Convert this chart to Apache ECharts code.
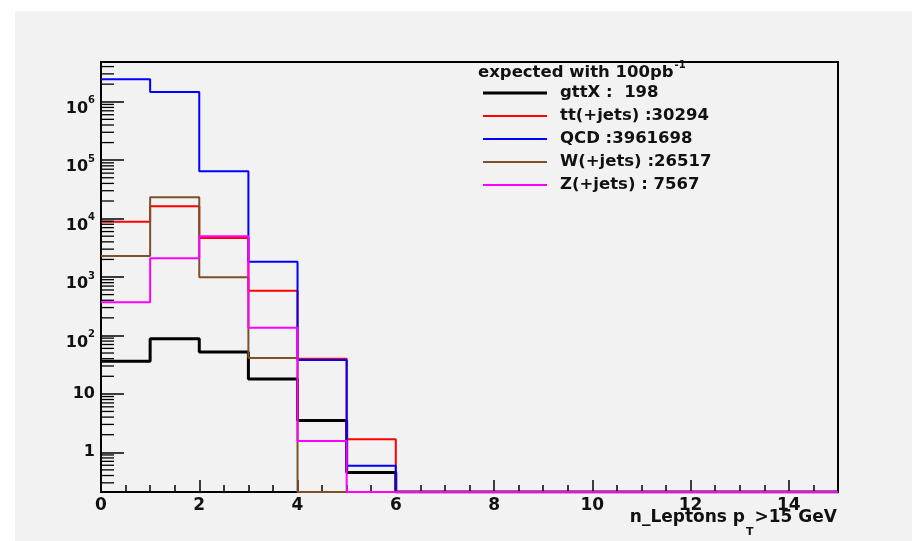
<!DOCTYPE html>
<html>
<head>
<meta charset="utf-8">
<title>n_Leptons pT>15 GeV</title>
<script src="https://cdn.jsdelivr.net/npm/echarts@6/dist/echarts.min.js"></script>
<style>
  html, body { margin: 0; padding: 0; background: #ffffff; }
  #panel { position: absolute; left: 15px; top: 11px; width: 897px; height: 530px; background: #f2f2f2; }
  #chart { position: absolute; left: 0; top: 0; width: 912px; height: 541px; }
</style>
</head>
<body>
<div id="panel"></div>
<div id="chart"></div>
<script>
// Expected events per lepton-multiplicity bin (bins of width 1 from 0 to 15), 100 pb^-1
const gttX   = [36, 88, 52, 18, 3.5, 0.45, 0, 0, 0, 0, 0, 0, 0, 0, 0];
const ttJets = [8850, 16200, 4650, 583, 40, 1.67, 0, 0, 0, 0, 0, 0, 0, 0, 0];
const qcd    = [2430000, 1470000, 64500, 1830, 38, 0.59, 0, 0, 0, 0, 0, 0, 0, 0, 0];
const wJets  = [2290, 23200, 989, 41, 0, 0, 0, 0, 0, 0, 0, 0, 0, 0, 0];
const zJets  = [369, 2090, 4970, 136, 1.56, 0, 0, 0, 0, 0, 0, 0, 0, 0, 0];

const sampleNames  = ['gttX', 'tt(+jets)', 'QCD', 'W(+jets)', 'Z(+jets)'];
const legendLabels = ['gttX :  198', 'tt(+jets) :30294', 'QCD :3961698', 'W(+jets) :26517', 'Z(+jets) : 7567'];
const legendHeader = ['expected with 100pb', '-1'];
const xAxisTitle   = ['n_Leptons p', 'T', '>15 GeV'];

// y-axis decade labels: [value, base, exponent]
const yDecadeLabels = [
  [1, '1', ''], [10, '10', ''], [100, '10', '2'], [1000, '10', '3'],
  [10000, '10', '4'], [100000, '10', '5'], [1000000, '10', '6']
];

const X_MIN = 0, X_MAX = 15;
const Y_MIN = 0.209, Y_MAX = 4.79e6;

const colors = ['#000000', '#ff0000', '#0000ff', '#7d5029', '#ff00ff'];
const widths = [3, 2, 2, 2, 2];
const FONT = 'DejaVu Sans';

// minor ticks of the log axis at 2..9 x 10^n inside the axis range
const yMinorTicks = [];
for (let e = -1; e <= 6; e++) {
  for (let k = 2; k <= 9; k++) {
    const v = k * Math.pow(10, e);
    if (v > Y_MIN && v < Y_MAX) yMinorTicks.push(v);
  }
}

// histogram outline: empty bins sit on the bottom of the frame
function outline(vals) {
  const pts = vals.map((v, i) => [i, v > 0 ? v : Y_MIN]);
  pts.push([vals.length, pts[pts.length - 1][1]]);
  return pts;
}

const histograms = [gttX, ttJets, qcd, wJets, zJets];

const series = histograms.map((vals, i) => ({
  name: sampleNames[i],
  type: 'line',
  step: 'end',
  data: outline(vals),
  symbol: 'none',
  lineStyle: { color: colors[i], width: widths[i] },
  itemStyle: { color: colors[i] },
  animation: false,
  z: 3 + i
}));

series.push({
  type: 'custom',
  xAxisIndex: 0,
  yAxisIndex: 0,
  silent: true,
  animation: false,
  z: 10,
  data: yMinorTicks.map(v => [X_MIN, v]),
  renderItem: function (params, api) {
    const p = api.coord([api.value(0), api.value(1)]);
    return {
      type: 'line',
      shape: { x1: p[0], y1: p[1], x2: p[0] + 13, y2: p[1] },
      style: { stroke: '#000', lineWidth: 1.3 }
    };
  }
});

// legend block and axis title
const overlay = [];
overlay.push({
  type: 'text',
  left: 478, top: 60,
  style: {
    text: '{h|' + legendHeader[0] + '}{s|' + legendHeader[1] + '}',
    rich: {
      h: { fontFamily: FONT, fontSize: 16.5, fontWeight: 'bold', fill: '#111', lineHeight: 18, verticalAlign: 'top', padding: [4, 0, 0, 0] },
      s: { fontFamily: FONT, fontSize: 10, fontWeight: 'bold', fill: '#111', lineHeight: 11, verticalAlign: 'top', padding: [0, 0, 0, 1] }
    }
  }
});
legendLabels.forEach((label, i) => {
  const y = 93 + 23 * i;
  overlay.push({
    type: 'line',
    shape: { x1: 483, y1: y, x2: 547, y2: y },
    style: { stroke: colors[i], lineWidth: widths[i] }
  });
  overlay.push({
    type: 'text',
    x: 560, y: y,
    style: {
      text: label,
      fontFamily: FONT, fontSize: 16.5, fontWeight: 'bold', fill: '#111',
      verticalAlign: 'middle', align: 'left'
    }
  });
});
overlay.push({
  type: 'text',
  x: 837, y: 509,
  style: {
    text: '{m|' + xAxisTitle[0] + '}{s|' + xAxisTitle[1] + '}{m|' + xAxisTitle[2] + '}',
    align: 'right', verticalAlign: 'top',
    rich: {
      m: { fontFamily: FONT, fontSize: 17, fontWeight: 'bold', fill: '#111', lineHeight: 19, verticalAlign: 'top' },
      s: { fontFamily: FONT, fontSize: 11, fontWeight: 'bold', fill: '#111', lineHeight: 12, verticalAlign: 'top', padding: [18, 1, 0, 1] }
    }
  }
});

const chart = echarts.init(document.getElementById('chart'), null, { renderer: 'canvas' });

chart.setOption({
  backgroundColor: 'transparent',
  animation: false,
  grid: {
    left: 101, top: 62, right: 74, bottom: 49,
    outerBoundsMode: 'none',
    containLabel: false,
    show: true, borderColor: '#000', borderWidth: 2, backgroundColor: 'transparent'
  },
  xAxis: [{
    type: 'value',
    min: X_MIN, max: X_MAX, interval: 2,
    position: 'bottom',
    axisLine: { show: true, onZero: false, lineStyle: { color: '#000', width: 2 } },
    axisTick: { show: true, inside: true, length: 12, lineStyle: { color: '#000', width: 1.5 } },
    splitLine: { show: false },
    axisLabel: {
      show: true, margin: 5, showMaxLabel: false,
      fontFamily: FONT, fontSize: 17, fontWeight: 'bold', color: '#111'
    }
  }, {
    type: 'value',
    min: X_MIN, max: X_MAX, interval: 0.5,
    position: 'bottom',
    axisLine: { show: false },
    axisTick: { show: true, inside: true, length: 7, lineStyle: { color: '#000', width: 1.5 } },
    axisLabel: { show: false },
    splitLine: { show: false }
  }],
  yAxis: {
    type: 'log',
    logBase: 10,
    min: Y_MIN, max: Y_MAX,
    splitNumber: 7,
    axisLine: { show: true, lineStyle: { color: '#000', width: 2 } },
    axisTick: { show: true, inside: true, length: 23, lineStyle: { color: '#000', width: 1.5 } },
    minorTick: { show: false },
    splitLine: { show: false },
    axisLabel: {
      show: true, margin: 6, showMinLabel: false, showMaxLabel: false,
      formatter: function (value) {
        for (const [v, base, exp] of yDecadeLabels) {
          if (Math.abs(value - v) / v < 1e-6) {
            return exp ? '{b|' + base + '}{e|' + exp + '}' : '{p|' + base + '}';
          }
        }
        return '';
      },
      rich: {
        b: { fontFamily: FONT, fontSize: 16, fontWeight: 'bold', color: '#111', lineHeight: 18, verticalAlign: 'top', padding: [8, 0, 0, 0] },
        e: { fontFamily: FONT, fontSize: 10, fontWeight: 'bold', color: '#111', lineHeight: 11, verticalAlign: 'top', padding: [3, 0, 0, 0] },
        p: { fontFamily: FONT, fontSize: 16, fontWeight: 'bold', color: '#111', lineHeight: 18 }
      }
    }
  },
  graphic: overlay,
  series: series
});
</script>
</body>
</html>
